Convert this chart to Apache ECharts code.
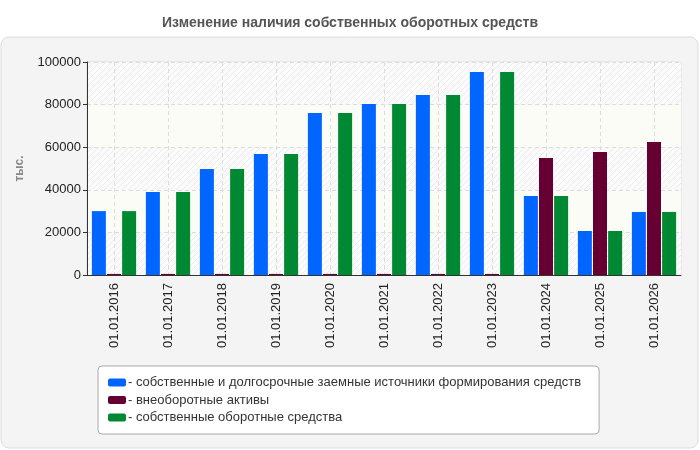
<!DOCTYPE html>
<html>
<head>
<meta charset="utf-8">
<script src="https://cdn.jsdelivr.net/npm/echarts@6/dist/echarts.min.js"></script>
<style>
  html, body { margin: 0; padding: 0; background: #fff; }
  #chart { width: 700px; height: 450px; }
</style>
</head>
<body>
<div id="chart"></div>
<script>
const categories = ['01.01.2016', '01.01.2017', '01.01.2018', '01.01.2019', '01.01.2020', '01.01.2021',
  '01.01.2022', '01.01.2023', '01.01.2024', '01.01.2025', '01.01.2026']
const seriesNames = [
  'собственные и долгосрочные заемные источники формирования средств',
  'внеоборотные активы',
  'собственные оборотные средства'
]
const sources = [30000, 39000, 49800, 56800, 76000, 80300, 84500, 95300, 37100, 20650, 29600]
const fixedAssets = [500, 500, 500, 500, 500, 500, 500, 500, 54900, 57750, 62400]
const workingCapital = [30000, 39000, 49800, 56800, 76000, 80300, 84500, 95300, 37100, 20650, 29600]
const colors = ['#0066ff', '#660033', '#008833']

// diagonal hatch for the plot bands
function makeHatch() {
  const c = document.createElement('canvas')
  c.width = 6
  c.height = 6
  const ctx = c.getContext('2d')
  ctx.fillStyle = '#fbfbfb'
  ctx.fillRect(0, 0, 6, 6)
  ctx.strokeStyle = '#ececec'
  ctx.lineWidth = 1
  ctx.beginPath()
  ctx.moveTo(-1, 7); ctx.lineTo(7, -1)
  ctx.moveTo(-1, 1); ctx.lineTo(1, -1)
  ctx.moveTo(5, 7); ctx.lineTo(7, 5)
  ctx.stroke()
  return c
}

const chart = echarts.init(document.getElementById('chart'))
const font = 'Arial, "Liberation Sans", sans-serif'

const option = {
  animation: false,
  color: colors,
  textStyle: { fontFamily: font },
  title: {
    text: 'Изменение наличия собственных оборотных средств',
    left: 'center',
    top: 11,
    textStyle: { fontSize: 14, fontWeight: 'bold', color: '#555', fontFamily: font }
  },
  graphic: [{
    type: 'rect',
    z: -10,
    shape: { x: 1, y: 37, width: 697, height: 411, r: 8 },
    style: { fill: '#f4f4f4', stroke: '#dcdcdc', lineWidth: 1 }
  }],
  grid: {
    left: 87, right: 19, top: 62, bottom: 175,
    show: true, borderColor: '#dddddd', borderWidth: 1, backgroundColor: 'transparent'
  },
  legend: {
    orient: 'vertical',
    left: 98,
    top: 366,
    padding: [9, 18, 9, 10],
    backgroundColor: '#ffffff',
    borderColor: '#aaaaaa',
    borderWidth: 1,
    borderRadius: 4,
    itemWidth: 18,
    itemHeight: 8,
    itemGap: 2.5,
    icon: 'roundRect',
    formatter: n => '- ' + n,
    textStyle: { fontSize: 13, lineHeight: 15, color: '#333', fontFamily: font, padding: [0, 0, 0, -3] },
    data: seriesNames
  },
  xAxis: {
    type: 'category',
    data: categories,
    axisLine: { lineStyle: { color: '#333' } },
    axisTick: { alignWithLabel: true, length: 5, lineStyle: { color: '#333' } },
    axisLabel: { rotate: 90, fontSize: 13, color: '#222', margin: 8, fontFamily: font },
    splitLine: { show: true, alignWithLabel: true, lineStyle: { color: '#dddddd', type: [4, 3] } }
  },
  yAxis: {
    type: 'value',
    min: 0,
    max: 100000,
    interval: 20000,
    name: 'тыс.',
    nameLocation: 'middle',
    nameGap: 61,
    nameMoveOverlap: false,
    nameTextStyle: { color: '#888', fontSize: 12, fontWeight: 'bold', fontFamily: font },
    axisLine: { show: true, lineStyle: { color: '#333' } },
    axisTick: { show: true, length: 4, lineStyle: { color: '#333' } },
    axisLabel: { fontSize: 13, color: '#222', margin: 6, fontFamily: font, formatter: v => String(v) },
    splitLine: { lineStyle: { color: '#dddddd', type: [4, 3] } },
    splitArea: {
      show: true,
      areaStyle: { color: [{ image: makeHatch(), repeat: 'repeat' }, '#fcfcf6'] }
    }
  },
  series: [
    { name: seriesNames[0], type: 'bar', data: sources, barWidth: 14, barGap: '8%' },
    { name: seriesNames[1], type: 'bar', data: fixedAssets, barWidth: 14, barGap: '8%' },
    { name: seriesNames[2], type: 'bar', data: workingCapital, barWidth: 14, barGap: '8%' }
  ]
}

chart.setOption(option)
</script>
</body>
</html>
